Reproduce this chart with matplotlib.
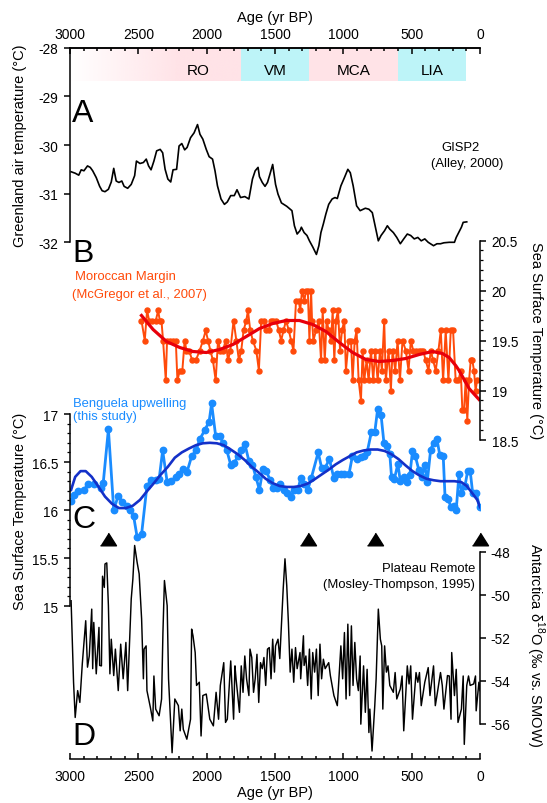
import matplotlib
matplotlib.use('Agg')
import matplotlib.pyplot as plt
import numpy as np

plt.rcParams['font.family'] = ['Liberation Sans', 'DejaVu Sans']
plt.rcParams['axes.unicode_minus'] = False
plt.rcParams['mathtext.fontset'] = 'custom'
plt.rcParams['mathtext.rm'] = 'Liberation Sans'
plt.rcParams['axes.linewidth'] = 1.1

# --- climate periods (yr BP) ---
period_names = ['RO', 'VM', 'MCA', 'LIA']
period_old = [3000, 1750, 1250, 600]
period_young = [1750, 1250, 600, 100]
period_label_age = [2060, 1500, 925, 350]
period_warm = [True, False, True, False]

# --- A: GISP2 Greenland air temperature ---
gisp2_age = [2992, 2962, 2936, 2918, 2898, 2872, 2852, 2834, 2808, 2783,
             2765, 2744, 2719, 2698, 2680, 2662, 2642, 2621, 2604, 2578,
             2552, 2527, 2514, 2488, 2463, 2442, 2425, 2407, 2386, 2366,
             2340, 2322, 2304, 2284, 2263, 2246, 2220, 2202, 2182, 2161,
             2143, 2118, 2092, 2067, 2049, 2028, 2003, 1982, 1957, 1939,
             1921, 1895, 1870, 1849, 1824, 1798, 1778, 1752, 1721, 1691,
             1680, 1665, 1645, 1624, 1614, 1593, 1573, 1555, 1537, 1517,
             1496, 1478, 1453, 1414, 1376, 1358, 1338, 1317, 1307, 1287,
             1266, 1248, 1223, 1197, 1179, 1164, 1146, 1128, 1107, 1082,
             1061, 1044, 1018, 992, 967, 949, 928, 903, 877, 839,
             813, 788, 762, 744, 724, 698, 678, 660, 634, 609,
             583, 558, 532, 507, 481, 455, 430, 404, 379, 340,
             315, 289, 264, 225, 187, 174, 156, 136, 123, 97]
gisp2_temp = [-30.55, -30.58, -30.62, -30.51, -30.53, -30.43, -30.46, -30.53, -30.67, -30.85,
              -30.94, -30.96, -30.91, -30.76, -30.48, -30.74, -30.77, -30.74, -30.85, -30.89,
              -30.81, -30.63, -30.33, -30.38, -30.36, -30.29, -30.43, -30.51, -30.33, -30.12,
              -30.09, -30.16, -30.50, -30.70, -30.76, -30.51, -30.50, -30.02, -29.97, -30.10,
              -30.05, -29.85, -29.75, -29.58, -29.78, -29.88, -30.09, -30.24, -30.29, -30.53,
              -30.84, -31.11, -31.22, -31.17, -31.04, -31.04, -30.92, -31.08, -31.06, -31.11,
              -30.94, -30.70, -30.53, -30.46, -30.65, -30.77, -30.85, -30.77, -30.60, -30.40,
              -30.81, -31.01, -31.19, -31.26, -31.35, -31.66, -31.83, -31.76, -31.69, -31.80,
              -31.86, -31.97, -32.10, -32.25, -32.07, -31.80, -31.62, -31.42, -31.22, -31.11,
              -31.08, -31.10, -30.84, -30.67, -30.50, -30.57, -30.84, -31.25, -31.35, -31.30,
              -31.32, -31.39, -31.73, -31.97, -31.86, -31.76, -31.66, -31.73, -31.80, -31.90,
              -32.03, -31.93, -31.83, -31.86, -31.93, -31.90, -31.97, -31.93, -32.00, -32.07,
              -32.03, -32.03, -32.01, -32.00, -32.00, -31.90, -31.80, -31.69, -31.59, -31.58]

# --- B: Moroccan Margin SST ---
mor_age = [2477, 2453, 2436, 2421, 2397, 2372, 2355, 2343, 2331, 2319,
           2299, 2290, 2270, 2246, 2226, 2214, 2197, 2178, 2161, 2148,
           2129, 2105, 2080, 2051, 2027, 2007, 1990, 1973, 1954, 1934,
           1917, 1900, 1881, 1861, 1844, 1827, 1803, 1783, 1764, 1747,
           1730, 1710, 1698, 1681, 1662, 1637, 1618, 1601, 1584, 1565,
           1545, 1528, 1511, 1492, 1472, 1455, 1438, 1419, 1399, 1382,
           1365, 1346, 1326, 1316, 1302, 1285, 1273, 1260, 1248, 1236,
           1229, 1219, 1200, 1180, 1163, 1151, 1136, 1122, 1107, 1090,
           1078, 1066, 1054, 1039, 1024, 1010, 993, 981, 961, 944,
           932, 917, 903, 888, 871, 859, 847, 830, 815, 798,
           781, 767, 749, 732, 718, 701, 689, 669, 652, 640,
           620, 603, 586, 567, 543, 523, 506, 489, 470, 450,
           433, 416, 397, 377, 360, 343, 324, 304, 287, 270,
           251, 231, 214, 197, 178, 158, 141, 129, 117, 105,
           93, 80, 68, 56, 44, 32, 22]
mor_sst = [19.7, 19.5, 19.8, 19.7, 19.7, 19.7, 19.8, 19.7, 19.7, 19.5,
           19.1, 19.5, 19.5, 19.5, 19.5, 19.1, 19.2, 19.2, 19.5, 19.4,
           19.4, 19.3, 19.3, 19.4, 19.5, 19.6, 19.5, 19.4, 19.3, 19.1,
           19.5, 19.4, 19.4, 19.5, 19.3, 19.4, 19.7, 19.5, 19.3, 19.4,
           19.6, 19.7, 19.8, 19.6, 19.5, 19.4, 19.2, 19.7, 19.7, 19.6,
           19.6, 19.7, 19.7, 19.7, 19.6, 19.5, 19.6, 19.7, 19.6, 19.5,
           19.4, 19.9, 19.9, 19.8, 20.0, 19.9, 20.0, 20.0, 19.5, 20.0,
           19.7, 19.5, 19.6, 19.7, 19.3, 19.8, 19.3, 19.7, 19.6, 19.5,
           19.8, 19.3, 19.7, 19.8, 19.4, 19.6, 19.7, 19.2, 19.5, 19.5,
           19.1, 19.5, 19.6, 19.1, 18.9, 19.4, 19.1, 19.3, 19.1, 19.4,
           19.1, 19.4, 19.1, 19.4, 19.2, 19.7, 19.1, 19.4, 19.0, 19.4,
           19.2, 19.5, 19.1, 19.5, 19.4, 19.2, 19.5, 19.4, 19.4, 19.4,
           19.4, 19.4, 19.3, 19.2, 19.4, 19.3, 19.2, 19.4, 19.6, 19.1,
           19.6, 19.1, 19.6, 19.6, 19.1, 19.1, 19.2, 18.8, 18.8, 19.1,
           18.7, 19.1, 19.3, 19.3, 19.2, 19.0, 19.1]
mor_fit_age = [2477, 2392, 2294, 2197, 2100, 2002, 1905, 1808, 1710, 1613,
               1516, 1419, 1321, 1224, 1127, 1029, 932, 835, 737, 640,
               543, 445, 348, 275, 226, 178, 153, 80, 7]
mor_fit_sst = [19.75, 19.61, 19.49, 19.43, 19.39, 19.38, 19.41, 19.46, 19.54, 19.62,
               19.67, 19.70, 19.70, 19.66, 19.59, 19.48, 19.38, 19.31, 19.29, 19.30,
               19.32, 19.36, 19.39, 19.37, 19.33, 19.25, 19.20, 19.02, 18.91]

# --- C: Benguela upwelling SST ---
ben_age = [2992, 2969, 2944, 2898, 2867, 2826, 2775, 2757, 2719, 2680,
           2647, 2616, 2586, 2560, 2535, 2509, 2476, 2437, 2407, 2373,
           2348, 2322, 2289, 2258, 2228, 2202, 2176, 2143, 2110, 2079,
           2049, 2015, 1982, 1964, 1934, 1905, 1880, 1854, 1824, 1798,
           1772, 1747, 1721, 1691, 1665, 1639, 1614, 1588, 1563, 1537,
           1512, 1486, 1460, 1435, 1409, 1384, 1358, 1333, 1312, 1287,
           1261, 1235, 1184, 1159, 1133, 1102, 1069, 1044, 1018, 992,
           959, 934, 898, 872, 852, 826, 795, 770, 749, 724,
           703, 678, 660, 647, 627, 601, 583, 558, 532, 514,
           494, 473, 448, 427, 404, 386, 361, 340, 315, 294,
           269, 256, 233, 212, 192, 174, 154, 136, 110, 90,
           72, 54, 28, 3]
ben_sst = [16.09, 16.16, 16.20, 16.21, 16.27, 16.27, 16.23, 16.28, 16.84, 16.00,
           16.15, 16.08, 16.04, 16.00, 15.94, 15.72, 15.75, 16.25, 16.31, 16.31,
           16.32, 16.62, 16.29, 16.30, 16.34, 16.37, 16.43, 16.40, 16.56, 16.62,
           16.74, 16.83, 16.92, 17.11, 16.77, 16.77, 16.70, 16.63, 16.47, 16.49,
           16.56, 16.62, 16.69, 16.51, 16.47, 16.34, 16.21, 16.43, 16.41, 16.31,
           16.23, 16.23, 16.27, 16.21, 16.18, 16.14, 16.21, 16.21, 16.33, 16.27,
           16.21, 16.33, 16.60, 16.44, 16.44, 16.53, 16.33, 16.37, 16.37, 16.37,
           16.37, 16.56, 16.53, 16.55, 16.56, 16.60, 16.81, 16.81, 17.05, 16.99,
           16.70, 16.67, 16.58, 16.34, 16.32, 16.48, 16.30, 16.34, 16.29, 16.36,
           16.61, 16.56, 16.42, 16.34, 16.47, 16.29, 16.63, 16.70, 16.74, 16.57,
           16.56, 16.14, 16.11, 16.03, 16.04, 16.00, 16.37, 16.18, 16.25, 16.41,
           16.41, 16.18, 16.18, 16.03]
ben_fit_age = [2992, 2962, 2923, 2885, 2841, 2795, 2744, 2693, 2642, 2591,
               2540, 2488, 2437, 2386, 2335, 2284, 2233, 2182, 2130, 2079,
               2028, 1977, 1926, 1875, 1824, 1772, 1721, 1670, 1619, 1568,
               1517, 1466, 1414, 1363, 1312, 1261, 1210, 1159, 1107, 1056,
               1005, 954, 903, 852, 801, 749, 698, 647, 596, 545,
               494, 443, 391, 340, 289, 238, 187, 136, 97, 59,
               20, 0]
ben_fit_sst = [16.21, 16.345, 16.405, 16.405, 16.345, 16.25, 16.14, 16.065, 16.02, 16.02,
               16.045, 16.105, 16.195, 16.28, 16.37, 16.45, 16.545, 16.60, 16.64, 16.675,
               16.695, 16.70, 16.695, 16.675, 16.63, 16.58, 16.52, 16.45, 16.39, 16.325,
               16.28, 16.25, 16.24, 16.24, 16.25, 16.275, 16.32, 16.37, 16.42, 16.475,
               16.52, 16.56, 16.60, 16.62, 16.63, 16.63, 16.615, 16.58, 16.53, 16.465,
               16.405, 16.36, 16.325, 16.31, 16.30, 16.30, 16.30, 16.29, 16.25, 16.18,
               16.105, 16.03]
marker_age = [2725, 1260, 770, 0]

# --- D: Plateau Remote d18O ---
pr_age = [2992, 2974, 2962, 2944, 2928, 2910, 2885, 2872, 2859, 2841,
          2834, 2826, 2808, 2788, 2783, 2770, 2762, 2749, 2744, 2731,
          2719, 2708, 2698, 2680, 2668, 2647, 2629, 2611, 2591, 2578,
          2552, 2540, 2527, 2509, 2494, 2476, 2463, 2458, 2443, 2437,
          2412, 2394, 2386, 2373, 2348, 2330, 2320, 2309, 2289, 2279,
          2253, 2233, 2207, 2194, 2182, 2171, 2145, 2118, 2110, 2100,
          2084, 2074, 2054, 2041, 2028, 2003, 1977, 1951, 1931, 1913,
          1900, 1875, 1862, 1849, 1824, 1813, 1803, 1793, 1785, 1760,
          1747, 1734, 1721, 1708, 1691, 1683, 1670, 1657, 1645, 1632,
          1619, 1606, 1593, 1581, 1568, 1555, 1542, 1529, 1517, 1504,
          1496, 1478, 1465, 1453, 1440, 1427, 1414, 1402, 1389, 1376,
          1363, 1350, 1338, 1317, 1312, 1292, 1287, 1274, 1261, 1248,
          1235, 1224, 1210, 1197, 1184, 1171, 1159, 1146, 1133, 1107,
          1095, 1069, 1044, 1018, 1005, 992, 980, 967, 954, 941,
          929, 916, 903, 890, 877, 872, 852, 839, 826, 813,
          806, 790, 770, 760, 744, 729, 719, 711, 698, 685,
          673, 660, 634, 621, 609, 583, 570, 558, 532, 519,
          507, 494, 481, 468, 455, 443, 430, 404, 379, 366,
          340, 327, 315, 289, 276, 264, 238, 225, 212, 207,
          187, 174, 161, 136, 123, 115, 97, 84, 72, 46,
          33, 28, 8, 0]
pr_d18o = [-50.29, -54.08, -55.72, -54.47, -55.02, -53.22, -51.22, -53.38, -52.86, -50.68,
           -53.45, -51.30, -53.69, -51.53, -53.30, -53.32, -49.15, -49.67, -48.58, -48.53,
           -50.52, -53.69, -52.08, -53.77, -52.54, -54.47, -52.31, -53.92, -52.23, -54.47,
           -50.21, -49.28, -47.72, -48.50, -49.04, -51.14, -53.92, -52.54, -52.39, -54.47,
           -55.25, -55.88, -53.79, -55.33, -55.64, -54.86, -51.77, -49.35, -50.52, -53.92,
           -57.36, -54.86, -55.17, -56.34, -55.33, -56.27, -56.73, -55.80, -51.61, -51.92,
           -52.70, -54.23, -54.08, -56.58, -54.70, -54.63, -55.80, -56.11, -54.55, -55.80,
           -54.23, -53.17, -55.95, -55.80, -53.09, -54.55, -55.80, -53.32, -53.92, -55.48,
           -53.32, -54.55, -52.86, -53.92, -54.70, -52.54, -52.93, -54.55, -53.92, -52.78,
           -55.02, -53.17, -53.45, -52.93, -54.23, -52.54, -52.47, -53.92, -52.08, -53.61,
           -52.39, -52.08, -52.98, -51.46, -49.74, -48.34, -49.59, -51.30, -53.61, -52.54,
           -54.08, -52.47, -53.45, -52.70, -53.92, -51.92, -53.30, -52.86, -54.23, -52.54,
           -54.86, -52.70, -53.61, -52.54, -54.70, -52.31, -53.92, -53.01, -53.45, -53.17,
           -53.77, -54.70, -55.17, -52.39, -53.92, -51.77, -54.86, -51.38, -54.70, -51.46,
           -54.23, -52.23, -53.92, -54.47, -52.86, -56.03, -53.32, -55.48, -53.48, -56.42,
           -55.33, -57.28, -55.17, -53.92, -50.68, -52.08, -52.39, -55.33, -52.39, -53.61,
           -53.32, -54.23, -54.55, -53.63, -54.86, -54.39, -53.79, -56.34, -53.32, -54.16,
           -53.32, -55.80, -54.70, -53.63, -54.08, -53.63, -55.17, -54.08, -53.40, -54.70,
           -53.32, -55.17, -54.70, -53.63, -54.23, -55.33, -53.77, -53.79, -55.80, -52.70,
           -54.70, -53.48, -55.95, -55.33, -53.79, -56.97, -54.23, -53.79, -54.23, -54.16,
           -53.79, -55.41, -54.08, -54.47]

# colours
PINK = '#FFE3E7'
CYAN = '#BDF4F8'
ORANGE = '#FF4A0A'
RED = '#E8000B'
LIGHT_BLUE = '#1A8CFF'
DARK_BLUE = '#1430C8'

# page layout in pixels
W, H = 547, 804
LEFT, RIGHT, TOP, BOTTOM = 70, 480, 48.7, 760
BAND_BOTTOM = 82
NOTE_SIZE = 9.4


def fig_text(fig, x, y, s, **kw):
    fig.text(x / W, 1 - y / H, s, **kw)


def value_limits(v_top, p_top, v_bot, p_bot):
    """ylim so that v_top sits at pixel row p_top and v_bot at p_bot"""
    per_px = (v_top - v_bot) / (p_bot - p_top)
    return v_bot - (BOTTOM - p_bot) * per_px, v_top + (p_top - TOP) * per_px


def add_panel(fig, rect, side, lims, bounds, major, minor=None, pad=4.5):
    ax = fig.add_axes(rect)
    ax.patch.set_visible(False)
    ax.set_xlim(3000, 0)
    ax.set_ylim(*lims)
    for s in ['top', 'bottom', 'left', 'right']:
        ax.spines[s].set_visible(s == side)
    ax.spines[side].set_bounds(*bounds)
    ax.tick_params(axis='x', which='both', bottom=False, top=False,
                   labelbottom=False, labeltop=False)
    ax.yaxis.set_ticks_position(side)
    ax.set_yticks(major)
    ax.set_yticklabels([('%g' % v) for v in major])
    if minor is not None:
        ax.set_yticks(minor, minor=True)
    ax.tick_params(axis='y', which='major', direction='out', length=4,
                   width=1.1, labelsize=9.8, pad=pad)
    ax.tick_params(axis='y', which='minor', direction='out', length=2.2, width=0.9)
    return ax


fig = plt.figure(figsize=(W / 100, H / 100), dpi=100)
fig.patch.set_facecolor('white')
rect = [LEFT / W, 1 - BOTTOM / H, (RIGHT - LEFT) / W, (BOTTOM - TOP) / H]

# shared age frame with top and bottom axes
base = fig.add_axes(rect)
base.set_xlim(3000, 0)
base.set_ylim(0, 1)
base.spines['left'].set_visible(False)
base.spines['right'].set_visible(False)
base.set_yticks([])
base.set_xticks([3000, 2500, 2000, 1500, 1000, 500, 0])
base.set_xticks(np.arange(0, 3001, 100), minor=True)
base.tick_params(axis='x', which='both', direction='in', top=False, bottom=True,
                 labelsize=10, pad=7, width=1.1)
base.tick_params(axis='x', which='major', length=4.5)
base.tick_params(axis='x', which='minor', length=2.5)
top_ax = base.secondary_xaxis('top')
top_ax.set_xticks([3000, 2500, 2000, 1500, 1000, 500, 0])
top_ax.set_xticks(np.arange(0, 3001, 100), minor=True)
top_ax.tick_params(axis='x', which='both', direction='in', labelsize=10, pad=5, width=1.1)
top_ax.tick_params(axis='x', which='major', length=4.5)
top_ax.tick_params(axis='x', which='minor', length=2.5)

# climate period bands
band_lo = 1 - (BAND_BOTTOM - TOP) / (BOTTOM - TOP)
for name, old, young, lab, warm in zip(period_names, period_old, period_young,
                                       period_label_age, period_warm):
    col = PINK if warm else CYAN
    if name == 'RO':
        # Roman period fades in from the left edge
        ages = np.linspace(old, young, 300)
        img = np.zeros((1, 300, 4))
        img[..., :3] = matplotlib.colors.to_rgb(col)
        img[..., 3] = np.clip((old - ages) / 800.0, 0, 1)
        base.imshow(img, extent=[old, young, band_lo, 1], aspect='auto',
                    interpolation='bilinear', zorder=0)
    else:
        base.axvspan(young, old, ymin=band_lo, ymax=1, color=col, lw=0, zorder=0)
    base.text(lab, 1 - (75 - TOP) / (BOTTOM - TOP), name, ha='center',
              va='baseline', fontsize=11)
base.set_xlim(3000, 0)
base.set_ylim(0, 1)

# A: Greenland
ax_a = add_panel(fig, rect, 'left', value_limits(-28, TOP, -32, 243.3), (-32, -28),
                 [-32, -31, -30, -29, -28])
ax_a.plot(gisp2_age, gisp2_temp, color='black', lw=1.2)

# B: Moroccan margin
ax_b = add_panel(fig, rect, 'right', value_limits(20.5, 241.5, 18.5, 441.5), (18.5, 20.5),
                 [18.5, 19, 19.5, 20, 20.5], np.arange(18.5, 20.51, 0.1))
ax_b.plot(mor_age, mor_sst, color=ORANGE, lw=1.4, marker='o', ms=3.6, mec=ORANGE)
ax_b.plot(mor_fit_age, mor_fit_sst, color=RED, lw=2.3)

# C: Benguela upwelling
ax_c = add_panel(fig, rect, 'left', value_limits(17, 415, 15, 607), (15, 17),
                 [15, 15.5, 16, 16.5, 17], np.arange(15, 17.01, 0.1))
ax_c.plot(ben_age, ben_sst, color=LIGHT_BLUE, lw=2.0, marker='o', ms=4.6)
ax_c.plot(ben_fit_age, ben_fit_sst, color=DARK_BLUE, lw=1.9)
tri = [(-1, -0.79), (1, -0.79), (0, 0.79)]
ax_c.plot(marker_age, [15.70] * len(marker_age), ls='none', marker=tri, ms=11.5,
          color='black', clip_on=False)

# D: Antarctica
ax_d = add_panel(fig, rect, 'right', value_limits(-48, 552.5, -56, 724.5), (-56, -48),
                 [-56, -54, -52, -50, -48], pad=3.5)
ax_d.plot(pr_age, pr_d18o, color='black', lw=1.05)

# axis titles
fig_text(fig, 275, 22, 'Age (yr BP)', ha='center', va='baseline', fontsize=10.5)
fig_text(fig, 275, 797, 'Age (yr BP)', ha='center', va='baseline', fontsize=10.5)
fig_text(fig, 20, 146, 'Greenland air temperature (°C)', rotation=90,
         ha='center', va='center', fontsize=10.5)
fig_text(fig, 20, 511, 'Sea Surface Temperature (°C)', rotation=90,
         ha='center', va='center', fontsize=10.5)
fig_text(fig, 536, 341, 'Sea Surface Temperature (°C)', rotation=-90,
         ha='center', va='center', fontsize=10.5)
fig_text(fig, 535, 645, r'Antarctica δ$^{18}$O (‰ vs. SMOW)', rotation=-90,
         ha='center', va='center', fontsize=10.5)

# panel letters
for letter, y in zip(['A', 'B', 'C', 'D'], [121.7, 261.7, 527.5, 745]):
    fig_text(fig, 72, y, letter, ha='left', va='baseline', fontsize=23)

# record annotations
fig_text(fig, 461, 150.7, 'GISP2', ha='center', va='baseline', fontsize=NOTE_SIZE)
fig_text(fig, 467, 166.5, '(Alley, 2000)', ha='center', va='baseline', fontsize=NOTE_SIZE)
fig_text(fig, 75, 280, 'Moroccan Margin', ha='left', va='baseline', fontsize=NOTE_SIZE,
         color=ORANGE)
fig_text(fig, 72, 298, '(McGregor et al., 2007)', ha='left', va='baseline',
         fontsize=NOTE_SIZE, color=ORANGE)
fig_text(fig, 73, 407, 'Benguela upwelling', ha='left', va='baseline', fontsize=NOTE_SIZE,
         color=LIGHT_BLUE)
fig_text(fig, 73, 420, '(this study)', ha='left', va='baseline', fontsize=NOTE_SIZE,
         color=LIGHT_BLUE)
fig_text(fig, 475, 572, 'Plateau Remote', ha='right', va='baseline', fontsize=NOTE_SIZE)
fig_text(fig, 475, 588, '(Mosley-Thompson, 1995)', ha='right', va='baseline',
         fontsize=NOTE_SIZE)

fig.savefig('out.png', dpi=100)
